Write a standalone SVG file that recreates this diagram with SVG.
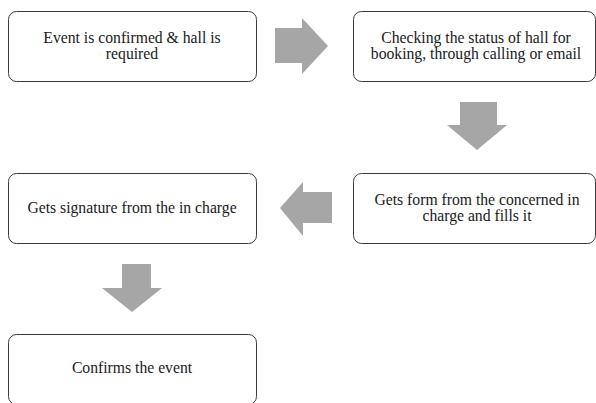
<svg xmlns="http://www.w3.org/2000/svg" width="596" height="403" viewBox="0 0 596 403">
<style>
.box{fill:#fff;stroke:#3a3a3a;stroke-width:1}
.t{font-family:'Liberation Serif','DejaVu Serif',serif;font-size:15.7px;fill:#1a1a1a;text-anchor:middle}
.ar{fill:#a6a6a6}
</style>
<rect width="596" height="403" fill="#fff"/>
<g id="connectors">
<polygon class="ar" points="275,28 302,28 302,18 328,46 302,74 302,63 275,63"/>
<polygon class="ar" points="460,102 497,102 497,125 507,125 477,150 447,125 460,125"/>
<polygon class="ar" points="332,192 303,192 303,182 280,208 303,236 303,223 332,223"/>
<polygon class="ar" points="122,264 151,264 151,288 162,288 132,312 102,288 122,288"/>
</g>
<g id="n1">
<rect class="box" x="8.5" y="11.5" width="248" height="70" rx="8"/>
<text class="t" x="132" y="43">Event is confirmed &amp; hall is</text>
<text class="t" x="132" y="59">required</text>
</g>
<g id="n2">
<rect class="box" x="353.5" y="11.5" width="242" height="70" rx="8"/>
<text class="t" x="476" y="43">Checking the status of hall for</text>
<text class="t" x="476" y="59">booking, through calling or email</text>
</g>
<g id="n3">
<rect class="box" x="353.5" y="173.5" width="242" height="70" rx="8"/>
<text class="t" x="477" y="205">Gets form from the concerned in</text>
<text class="t" x="477" y="221">charge and fills it</text>
</g>
<g id="n4">
<rect class="box" x="8.5" y="173.5" width="248" height="70" rx="8"/>
<text class="t" x="132" y="213">Gets signature from the in charge</text>
</g>
<g id="n5">
<rect class="box" x="8.5" y="334.5" width="248" height="70" rx="8"/>
<text class="t" x="132" y="373">Confirms the event</text>
</g>
</svg>
